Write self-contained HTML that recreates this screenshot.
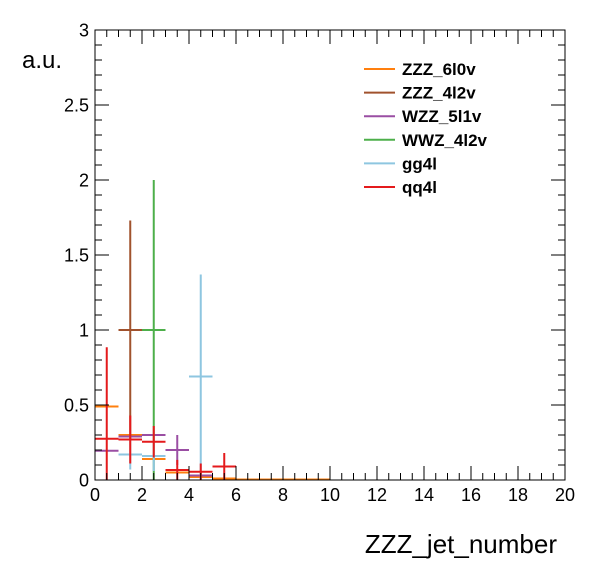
<!DOCTYPE html>
<html><head><meta charset="utf-8"><style>
body{margin:0;background:#fff}
svg text{font-family:"Liberation Sans",Arial,sans-serif}
</style></head><body>
<svg id="chart" width="596" height="572" viewBox="0 0 596 572" xmlns="http://www.w3.org/2000/svg">
<rect width="596" height="572" fill="#fff"/>
<g id="marks"></g>
<g id="axes"></g>
<text x="22" y="68" font-size="24">a.u.</text>
<text x="557" y="553" font-size="26" text-anchor="end">ZZZ_jet_number</text>
<g id="legend"></g>
</svg>
<script>
const seriesNames=["ZZZ_6l0v","ZZZ_4l2v","WZZ_5l1v","WWZ_4l2v","gg4l","qq4l"];
const seriesColors=["#ff7f0e","#a0522d","#9a4ea3","#4daf4a","#8ec6e0","#e41a1c"];
const binCenters=[0.5,1.5,2.5,3.5,4.5,5.5,6.5,7.5,8.5,9.5];
const zzz6l0v=[0.49,0.30,0.14,0.05,0.02,0.01,0.003,0.003,0.003,0.003];
const zzz6l0vErr=[0,0,0,0,0,0,0,0,0,0];
const zzz4l2v=[null,1.0,null,null,null,null,null,null,null,null];
const zzz4l2vErr=[0,0.73,0,0,0,0,0,0,0,0];
const wzz5l1v=[0.195,0.29,0.30,0.20,0.03,null,null,null,null,null];
const wzz5l1vErr=[0,0,0,0.1,0,0,0,0,0,0];
const wwz4l2v=[null,null,1.0,null,null,null,null,null,null,null];
const wwz4l2vErr=[0,0,1.0,0,0,0,0,0,0,0];
const gg4l=[null,0.17,0.16,null,0.69,null,null,null,null,null];
const gg4lErr=[0,0.1,0.1,0,0.68,0,0,0,0,0];
const qq4l=[0.275,0.27,0.255,0.067,0.055,0.09,null,null,null,null];
const qq4lErr=[0.61,0.16,0.105,0.067,0.055,0.09,0,0,0,0];
const xTicks=[0,2,4,6,8,10,12,14,16,18,20];
const yTicks=[0,0.5,1,1.5,2,2.5,3];
const yTickLabels=["0","0.5","1","1.5","2","2.5","3"];

const X0=95,X1=565,Y0=480,Y1=30;
const sx=v=>X0+(v-0)/(20-0)*(X1-X0);
const sy=v=>Y0-(v-0)/(3-0)*(Y0-Y1);
const NS="http://www.w3.org/2000/svg";
function mk(t,a,p){const e=document.createElementNS(NS,t);for(const k in a)e.setAttribute(k,a[k]);p.appendChild(e);return e;}
const marks=document.getElementById('marks'),axes=document.getElementById('axes'),leg=document.getElementById('legend');
const data=[[zzz6l0v,zzz6l0vErr],[zzz4l2v,zzz4l2vErr],[wzz5l1v,wzz5l1vErr],[wwz4l2v,wwz4l2vErr],[gg4l,gg4lErr],[qq4l,qq4lErr]];
data.forEach((d,s)=>{
  const g=mk('g',{},marks);
  
  
  d[0].forEach((v,i)=>{
    if(v===null)return;
    const c=binCenters[i],e=d[1][i];
    const h=mk('line',{x1:sx(c-0.5),x2:sx(c+0.5),y1:sy(v),y2:sy(v),stroke:seriesColors[s],'stroke-width':2},g);
    
    
    if(e>0){
      const ev=mk('line',{x1:sx(c),x2:sx(c),y1:sy(Math.max(0,v-e)),y2:sy(v+e),stroke:seriesColors[s],'stroke-width':2},g);
      
      
    }
  });
});
const fr=mk('rect',{x:X0,y:Y1,width:X1-X0,height:Y0-Y1,fill:'none',stroke:'#000','stroke-width':1},axes);


for(let v=0;v<=20.001;v+=0.5){
  const maj=Math.abs(v/2-Math.round(v/2))<1e-6;const L=maj?14:7;
  mk('line',{x1:sx(v),x2:sx(v),y1:Y0,y2:Y0-L,stroke:'#000'},axes);
  mk('line',{x1:sx(v),x2:sx(v),y1:Y1,y2:Y1+L,stroke:'#000'},axes);
}
for(let v=0;v<=3.001;v+=0.1){
  const maj=Math.abs(v/0.5-Math.round(v/0.5))<1e-6;const L=maj?14:7;
  mk('line',{x1:X0,x2:X0+L,y1:sy(v),y2:sy(v),stroke:'#000'},axes);
  mk('line',{x1:X1,x2:X1-L,y1:sy(v),y2:sy(v),stroke:'#000'},axes);
}
xTicks.forEach(v=>{const t=mk('text',{x:sx(v),y:Y0+21,'font-size':18,'text-anchor':'middle'},axes);t.textContent=v;

});
yTicks.forEach((v,i)=>{const t=mk('text',{x:X0-6,y:sy(v)+6.5,'font-size':18,'text-anchor':'end'},axes);t.textContent=yTickLabels[i];

});
seriesNames.forEach((n,i)=>{
  const y=69+i*23.6;
  const g=mk('g',{},leg);
  
  
  mk('line',{x1:364,x2:395,y1:y,y2:y,stroke:seriesColors[i],'stroke-width':2},g);
  const t=mk('text',{x:402,y:y+6,'font-size':17,'font-weight':'bold'},g);t.textContent=n;
});
</script>
</body></html>
